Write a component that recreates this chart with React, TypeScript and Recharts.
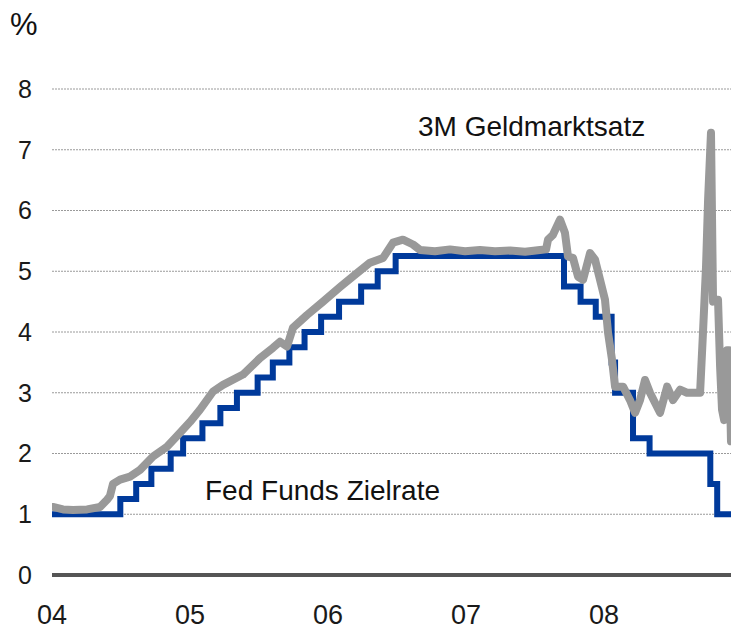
import React from "react";
import { LineChart, Line, XAxis, YAxis, CartesianGrid, Customized } from "recharts";

// Fed Funds target rate: [decimal year, %] (step changes)
const fedT = [2004.0, 2004.495, 2004.61, 2004.72, 2004.86, 2004.95, 2005.09, 2005.22, 2005.34, 2005.49, 2005.6, 2005.72, 2005.83, 2005.95, 2006.08, 2006.24, 2006.36, 2006.49, 2007.71, 2007.83, 2007.94, 2008.055, 2008.08, 2008.21, 2008.33, 2008.77, 2008.82, 2008.92];
const fedV = [1.0, 1.25, 1.5, 1.75, 2.0, 2.25, 2.5, 2.75, 3.0, 3.25, 3.5, 3.75, 4.0, 4.25, 4.5, 4.75, 5.0, 5.25, 4.75, 4.5, 4.25, 3.5, 3.0, 2.25, 2.0, 1.5, 1.0, 1.0];

// 3M money market rate: [decimal year, %]
const mmT = [2004.007, 2004.08, 2004.152, 2004.254, 2004.348, 2004.399, 2004.42, 2004.442, 2004.493, 2004.565, 2004.638, 2004.732, 2004.833, 2004.928, 2005.0, 2005.072, 2005.167, 2005.239, 2005.384, 2005.507, 2005.601, 2005.652, 2005.703, 2005.746, 2005.848, 2005.964, 2006.087, 2006.21, 2006.304, 2006.399, 2006.471, 2006.543, 2006.616, 2006.667, 2006.775, 2006.884, 2006.993, 2007.101, 2007.21, 2007.319, 2007.428, 2007.536, 2007.58, 2007.594, 2007.63, 2007.681, 2007.717, 2007.739, 2007.775, 2007.812, 2007.848, 2007.899, 2007.935, 2007.971, 2008.007, 2008.029, 2008.058, 2008.08, 2008.138, 2008.188, 2008.225, 2008.261, 2008.297, 2008.333, 2008.384, 2008.406, 2008.457, 2008.5, 2008.551, 2008.601, 2008.696, 2008.717, 2008.739, 2008.754, 2008.775, 2008.79, 2008.812, 2008.826, 2008.841, 2008.855, 2008.87, 2008.891, 2008.906, 2008.92];
const mmV = [1.12, 1.08, 1.07, 1.08, 1.12, 1.24, 1.3, 1.5, 1.57, 1.62, 1.73, 1.95, 2.11, 2.34, 2.52, 2.72, 3.02, 3.13, 3.3, 3.57, 3.74, 3.84, 3.76, 4.07, 4.28, 4.5, 4.74, 4.97, 5.14, 5.22, 5.47, 5.52, 5.44, 5.35, 5.33, 5.36, 5.33, 5.35, 5.33, 5.34, 5.32, 5.35, 5.36, 5.52, 5.6, 5.85, 5.63, 5.24, 5.22, 4.91, 4.86, 5.3, 5.19, 4.86, 4.53, 3.99, 3.54, 3.1, 3.1, 2.88, 2.67, 2.88, 3.21, 3.0, 2.77, 2.67, 3.1, 2.88, 3.05, 3.0, 3.0, 3.99, 5.07, 6.18, 7.28, 4.5, 4.53, 4.53, 3.43, 2.72, 2.55, 3.7, 3.7, 2.2];

const xTicks = [2004, 2005, 2006, 2007, 2008];
const xLabels = ["04", "05", "06", "07", "08"];
const yTicks = [0, 1, 2, 3, 4, 5, 6, 7, 8];

const fedData = fedT.map((t, i) => ({ t, v: fedV[i] }));
const mmData = mmT.map((t, i) => ({ t, v: mmV[i] }));

const FONT = "'Liberation Sans', Arial, sans-serif";

const Annotations = () => (
  <g fontFamily={FONT} fill="#111">
    <text x={10} y={35} fontSize={31}>%</text>
    <text x={418} y={136} fontSize={28}>3M Geldmarktsatz</text>
    <text x={205} y={500} fontSize={28}>Fed Funds Zielrate</text>
  </g>
);

export default function App() {
  return (
    <div style={{ position: "absolute", left: 0, top: 0, width: 731, height: 630, background: "#fff" }}>
      <LineChart width={731} height={630} margin={{ top: 89, right: 0, left: 0, bottom: 0 }}>
        <CartesianGrid horizontal vertical={false} stroke="#9a9a9a" strokeDasharray="2 1" />
        <XAxis
          type="number"
          dataKey="t"
          domain={[2004, 2008.92]}
          allowDataOverflow
          ticks={xTicks}
          tickFormatter={(v: number) => xLabels[xTicks.indexOf(v)] ?? ""}
          height={55}
          tickLine={false}
          tickSize={0}
          tickMargin={30}
          axisLine={{ stroke: "#555", strokeWidth: 4 }}
          tick={{ fontSize: 27, fill: "#1a1a1a", fontFamily: FONT }}
        />
        <YAxis
          type="number"
          domain={[0, 8]}
          ticks={yTicks}
          width={52}
          axisLine={false}
          tickLine={false}
          tickSize={0}
          tickMargin={20}
          tick={{ fontSize: 25, fill: "#1a1a1a", fontFamily: FONT }}
        />
        <Line
          data={fedData}
          dataKey="v"
          type="stepAfter"
          stroke="#003A9B"
          strokeWidth={6}
          dot={false}
          isAnimationActive={false}
        />
        <Line
          data={mmData}
          dataKey="v"
          type="linear"
          stroke="#999999"
          strokeWidth={8}
          strokeLinejoin="round"
          strokeLinecap="round"
          dot={false}
          isAnimationActive={false}
        />
        <Customized component={Annotations} />
      </LineChart>
    </div>
  );
}
